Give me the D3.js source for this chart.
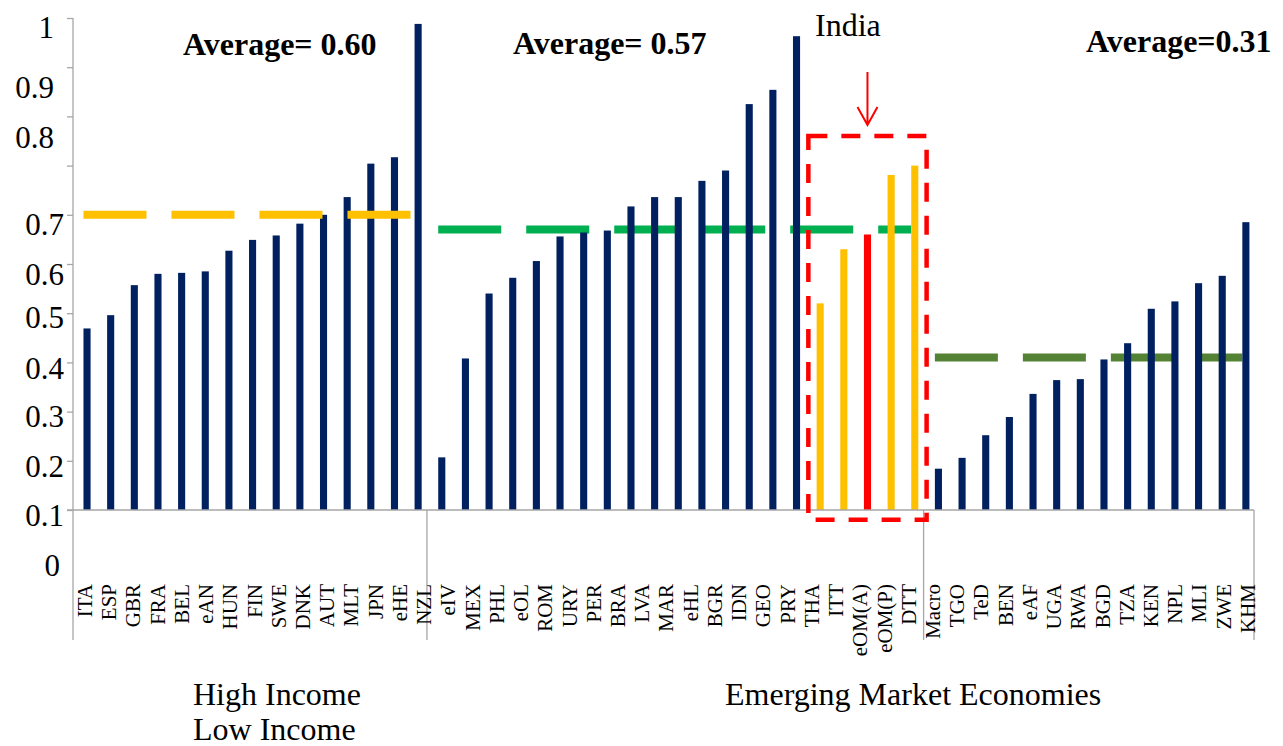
<!DOCTYPE html>
<html>
<head>
<meta charset="utf-8">
<script src="https://cdn.jsdelivr.net/npm/d3@7"></script>
<style>
  body { margin: 0; background: #fff; }
  svg { display: block; font-family: "Liberation Serif", "Times New Roman", serif; }
</style>
</head>
<body>
<div id="chart"></div>
<script>
// ---- data ----
var highIncome = ["ITA", "ESP", "GBR", "FRA", "BEL", "eAN", "HUN", "FIN", "SWE", "DNK", "AUT", "MLT", "JPN", "eHE", "NZL"];
var highValues = [0.369, 0.396, 0.457, 0.480, 0.482, 0.485, 0.527, 0.549, 0.558, 0.582, 0.600, 0.636, 0.704, 0.717, 0.988];

var emerging = ["eIV", "MEX", "PHL", "eOL", "ROM", "URY", "PER", "BRA", "LVA", "MAR", "eHL", "BGR", "IDN", "GEO", "PRY", "THA"];
var emergingValues = [0.107, 0.308, 0.440, 0.472, 0.506, 0.556, 0.564, 0.568, 0.617, 0.636, 0.636, 0.669, 0.690, 0.825, 0.854, 0.963];

// India's five estimates (the middle one is highlighted red)
var india = ["India1", "India2", "India3", "India4", "India5"];
var indiaValues = [0.420, 0.530, 0.560, 0.681, 0.700];
var indiaHighlight = "India3";

var lowIncome = ["Macro", "TGO", "TeD", "BEN", "eAF", "UGA", "RWA", "BGD", "TZA", "KEN", "NPL", "MLI", "ZWE", "KHM"];
var lowValues = [0.084, 0.106, 0.152, 0.189, 0.236, 0.264, 0.266, 0.306, 0.339, 0.409, 0.424, 0.461, 0.476, 0.585];

var averages = [0.60, 0.57, 0.31];
var averageText = ["Average= 0.60", "Average= 0.57", "Average=0.31"];

// tick labels as printed under the axis (one fewer than the bars)
var tickLabels = ["ITA", "ESP", "GBR", "FRA", "BEL", "eAN", "HUN", "FIN", "SWE", "DNK", "AUT", "MLT", "JPN", "eHE", "NZL",
  "eIV", "MEX", "PHL", "eOL", "ROM", "URY", "PER", "BRA", "LVA", "MAR", "eHL", "BGR", "IDN", "GEO", "PRY", "THA",
  "ITT", "eOM(A)", "eOM(P)", "DTT",
  "Macro", "TGO", "TeD", "BEN", "eAF", "UGA", "RWA", "BGD", "TZA", "KEN", "NPL", "MLI", "ZWE", "KHM"];

var yTicks = [0, 0.1, 0.2, 0.3, 0.4, 0.5, 0.6, 0.7, 0.8, 0.9, 1];
// labels as printed next to the ticks
var yLabels = ["1", "0.9", "0.8", "0.7", "0.6", "0.5", "0.4", "0.3", "0.2", "0.1", "0"];
var yLabelAt = [1, 0.9, 0.8, 0.6, 0.5, 0.4, 0.3, 0.2, 0.1, 0, -0.1];

var groupNames = ["High Income", "Low Income", "Emerging Market Economies"];

// ---- layout ----
var svgWidth = 1283;
var svgHeight = 746;
var axisX = 73;
var frameRight = 1254;
var frameBottom = 640;
var gray = "#a6a6a6";
var navy = "#002060";

var svg = d3.select("#chart")
  .append("svg")
  .attr("width", svgWidth)
  .attr("height", svgHeight);

var bars = [];
highIncome.forEach(function(d, i) { bars.push({ key: d, value: highValues[i], color: navy }); });
emerging.forEach(function(d, i) { bars.push({ key: d, value: emergingValues[i], color: navy }); });
india.forEach(function(d, i) {
  bars.push({ key: d, value: indiaValues[i], color: d === indiaHighlight ? "#ff0000" : "#ffc000" });
});
lowIncome.forEach(function(d, i) { bars.push({ key: d, value: lowValues[i], color: navy }); });

var yScale = d3.scaleLinear().domain([0, 1]).range([510, 18]);

var xScale = d3.scaleBand()
  .domain(bars.map(function(d) { return d.key; }))
  .range([75.2, 1257.7])
  .paddingInner(0.7)
  .paddingOuter(0.35);

var xCenter = function(k) { return xScale(k) + xScale.bandwidth() / 2; };

var labelScale = d3.scalePoint().domain(tickLabels).range([85, 1248]);

// average lines
var avgGroups = [
  { first: highIncome[0], last: highIncome[highIncome.length - 1], color: "#ffc000", top: true },
  { first: emerging[0], last: india[india.length - 1], color: "#00b050", top: false },
  { first: lowIncome[0], last: lowIncome[lowIncome.length - 1], color: "#548235", top: false }
];

function drawAvg(g, i) {
  svg.append("line")
    .attr("x1", xScale(g.first))
    .attr("x2", xScale(g.last))
    .attr("y1", yScale(averages[i]))
    .attr("y2", yScale(averages[i]))
    .attr("stroke", g.color)
    .attr("stroke-width", 8)
    .attr("stroke-dasharray", "63 25");
}

avgGroups.forEach(function(g, i) { if (!g.top) drawAvg(g, i); });

// bars
svg.append("g")
  .selectAll("rect")
  .data(bars)
  .enter()
  .append("rect")
  .attr("x", function(d) { return xScale(d.key); })
  .attr("width", xScale.bandwidth())
  .attr("y", function(d) { return yScale(d.value); })
  .attr("height", function(d) { return yScale(0) - yScale(d.value); })
  .attr("fill", function(d) { return d.color; });

avgGroups.forEach(function(g, i) { if (g.top) drawAvg(g, i); });

// frame: baseline, y axis, group separators
svg.append("line")
  .attr("x1", axisX - 6).attr("x2", frameRight)
  .attr("y1", yScale(0)).attr("y2", yScale(0))
  .attr("stroke", gray).attr("stroke-width", 1.3);

var leftAxis = d3.axisLeft(yScale).tickValues(yTicks).tickSize(6).tickFormat("");
var axisG = svg.append("g")
  .attr("transform", "translate(" + axisX + ",0)")
  .call(leftAxis);
axisG.select(".domain").remove();
axisG.selectAll(".tick line").attr("stroke", gray).attr("stroke-width", 1.3);

svg.append("line")
  .attr("x1", axisX).attr("x2", axisX)
  .attr("y1", yScale(1)).attr("y2", frameBottom)
  .attr("stroke", gray).attr("stroke-width", 1.3);

var separators = [
  (xCenter(highIncome[highIncome.length - 1]) + xCenter(emerging[0])) / 2 - 3,
  (xCenter(india[india.length - 1]) + xCenter(lowIncome[0])) / 2 - 3,
  frameRight
];
svg.selectAll(".sep")
  .data(separators)
  .enter()
  .append("line")
  .attr("x1", function(d) { return d; })
  .attr("x2", function(d) { return d; })
  .attr("y1", yScale(0))
  .attr("y2", frameBottom)
  .attr("stroke", gray)
  .attr("stroke-width", 1.3);

// y labels (printed a little off the ticks, as in the source)
var yLabelDx = [-10, -10, -10, 0, 0, 0, 0, 0, 0, 0, -4];
var yLabelDy = [9, 20, 21, 9, 10, 4, 6, 5, 5, 5, 6];
svg.append("g")
  .selectAll("text")
  .data(yLabels)
  .enter()
  .append("text")
  .attr("x", function(d, i) { return 64 + yLabelDx[i]; })
  .attr("y", function(d, i) { return yScale(yLabelAt[i]) + yLabelDy[i]; })
  .attr("dy", "0.35em")
  .attr("text-anchor", "end")
  .style("font-size", "31px")
  .text(function(d) { return d; });

// category labels
svg.append("g")
  .selectAll("text")
  .data(tickLabels)
  .enter()
  .append("text")
  .attr("transform", function(d) { return "translate(" + labelScale(d) + ",584) rotate(-90)"; })
  .attr("dy", "0.33em")
  .attr("text-anchor", "end")
  .style("font-size", "21px")
  .text(function(d) { return d; });

// group titles
svg.append("text").attr("x", 193).attr("y", 705).style("font-size", "32px").text(groupNames[0]);
svg.append("text").attr("x", 193).attr("y", 740).style("font-size", "32px").text(groupNames[1]);
svg.append("text").attr("x", 725).attr("y", 705).style("font-size", "32px").text(groupNames[2]);

// average titles
var avgTextPos = [[183, 55], [513, 54], [1086, 52]];
svg.append("g")
  .selectAll("text")
  .data(averageText)
  .enter()
  .append("text")
  .attr("x", function(d, i) { return avgTextPos[i][0]; })
  .attr("y", function(d, i) { return avgTextPos[i][1]; })
  .style("font-size", "32px")
  .style("font-weight", "bold")
  .text(function(d) { return d; });

// India box, arrow and label
var boxLeft = (xCenter(emerging[emerging.length - 1]) + xCenter(india[0])) / 2;
var boxRight = (xCenter(india[india.length - 1]) + xCenter(lowIncome[0])) / 2;
svg.append("rect")
  .attr("x", boxLeft)
  .attr("y", yScale(0.76))
  .attr("width", boxRight - boxLeft)
  .attr("height", yScale(-0.02) - yScale(0.76))
  .attr("fill", "none")
  .attr("stroke", "#ff0000")
  .attr("stroke-width", 4.5)
  .attr("stroke-dasharray", "19 14");

var ax = xCenter(indiaHighlight);
svg.append("path")
  .attr("d", "M" + ax + ",72 L" + ax + ",125 M" + (ax - 10) + ",107 L" + ax + ",125 L" + (ax + 10) + ",107")
  .attr("fill", "none")
  .attr("stroke", "#ff0000")
  .attr("stroke-width", 2);

svg.append("text")
  .attr("x", 815)
  .attr("y", 36)
  .style("font-size", "32px")
  .text("India");
</script>
</body>
</html>
